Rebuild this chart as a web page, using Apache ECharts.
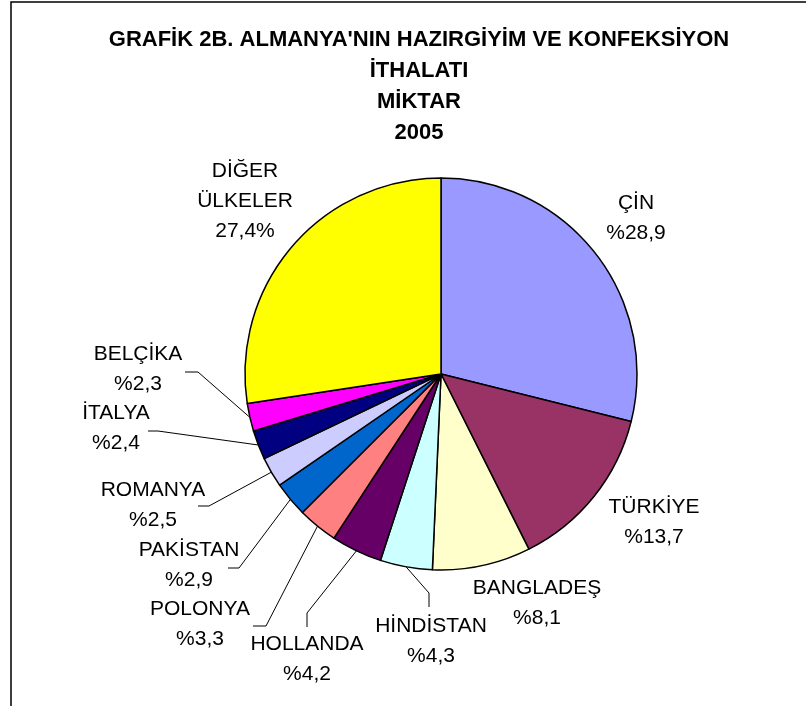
<!DOCTYPE html>
<html>
<head>
<meta charset="utf-8">
<script src="https://cdn.jsdelivr.net/npm/echarts@6/dist/echarts.min.js"></script>
<style>
html,body{margin:0;padding:0;background:#fff;}
#chart{width:806px;height:706px;}
</style>
</head>
<body>
<div id="chart"></div>
<script>
// ulkeler, saat 12'den saat yonunde
var countries = ["ÇİN","TÜRKİYE","BANGLADEŞ","HİNDİSTAN","HOLLANDA","POLONYA","PAKİSTAN","ROMANYA","İTALYA","BELÇİKA","DİĞER ÜLKELER"];
var shares = [28.9,13.7,8.1,4.3,4.2,3.3,2.9,2.5,2.4,2.3,27.4];
var colors = ["#9999FF","#993366","#FFFFCC","#CCFFFF","#660066","#FF8080","#0066CC","#CCCCFF","#000080","#FF00FF","#FFFF00"];

// etiket merkezleri (px)
var labelPos = [[636,218],[654,522],[537,603],[431,641],[307,659],[200,624],[189,565],[153,505],[116,428],[138,369],[245,201]];
// kilavuz cizgisi: [dirsek, uc] ya da null
var guide = [null,null,null,
	[[429,593],[429,607]],
	[[307,613],[307,627]],
	[[266,626],[253,626]],
	[[239,568],[228,568]],
	[[209,506],[198,506]],
	[[158,431],[148,431]],
	[[198,372],[185,372]],
	null];

var pieData = [];
for (var i = 0; i < countries.length; i++) {
	pieData.push({
		name: countries[i],
		value: shares[i],
		itemStyle: {color: colors[i]},
		labelLine: {show: guide[i] != null}
	});
}

var myChart = echarts.init(document.getElementById("chart"));
var option = {
	backgroundColor: "#fff",
	animation: false,
	title: {
		text: "GRAFİK 2B. ALMANYA'NIN HAZIRGİYİM VE KONFEKSİYON\nİTHALATI\nMİKTAR\n2005",
		left: 414,
		top: 19,
		textAlign: "center",
		textStyle: {
			fontFamily: "Liberation Sans",
			fontSize: 22,
			fontWeight: "bold",
			color: "#000",
			lineHeight: 31
		}
	},
	graphic: [{
		type: "rect",
		shape: {x: 11, y: 2, width: 900, height: 800},
		style: {fill: null, stroke: "#000", lineWidth: 1.5},
		silent: true
	}],
	series: [{
		type: "pie",
		center: [441, 374],
		radius: 196,
		startAngle: 90,
		clockwise: true,
		avoidLabelOverlap: false,
		itemStyle: {borderColor: "#000", borderWidth: 1.5},
		label: {
			show: true,
			position: "outside",
			fontFamily: "Liberation Sans",
			fontSize: 21,
			color: "#000",
			lineHeight: 30,
			formatter: function(p) {
				var v = String(p.value).replace(".", ",");
				if (p.name.indexOf("DİĞER") === 0) {
					return p.name.replace(" ", "\n") + "\n" + v + "%";
				}
				return p.name + "\n%" + v;
			}
		},
		labelLine: {
			show: true,
			length: 10,
			length2: 10,
			lineStyle: {color: "#000", width: 1}
		},
		labelLayout: function(params) {
			var i = params.dataIndex;
			var out = {x: labelPos[i][0], y: labelPos[i][1], align: "center", verticalAlign: "middle"};
			if (guide[i] && params.labelLinePoints) {
				out.labelLinePoints = [params.labelLinePoints[0], guide[i][0], guide[i][1]];
			}
			return out;
		},
		emphasis: {disabled: true},
		data: pieData
	}]
};
myChart.setOption(option);
</script>
</body>
</html>
